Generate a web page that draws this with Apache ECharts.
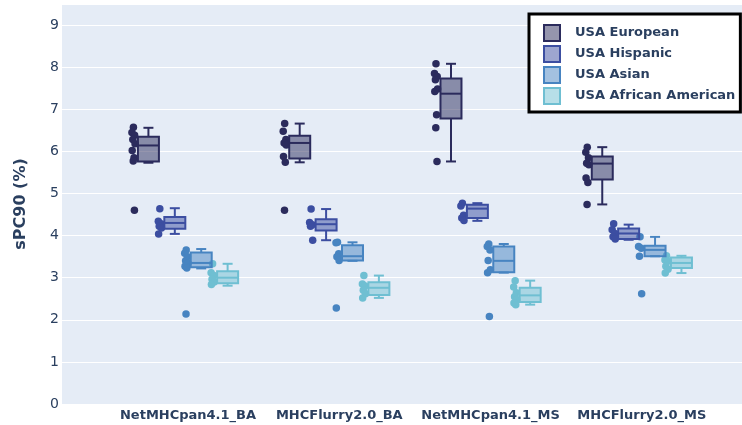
<!DOCTYPE html>
<html>
<head>
<meta charset="utf-8">
<script src="https://cdn.jsdelivr.net/npm/echarts@6/dist/echarts.min.js"></script>
<style>
html,body{margin:0;padding:0;background:#fff;}
#chart{width:742px;height:425px;}
</style>
</head>
<body>
<div id="chart"></div>
<script>
const categories = ['NetMHCpan4.1_BA', 'MHCFlurry2.0_BA', 'NetMHCpan4.1_MS', 'MHCFlurry2.0_MS'];
const groupNames = ['USA European', 'USA Hispanic', 'USA Asian', 'USA African American'];
const yTicks = [0, 1, 2, 3, 4, 5, 6, 7, 8, 9];

// box stats per category: [lowerWhisker, q1, median, q3, upperWhisker]
const europeanBoxes = [
  [5.73, 5.76, 6.14, 6.35, 6.56],
  [5.74, 5.83, 6.20, 6.37, 6.66],
  [5.76, 6.78, 7.37, 7.73, 8.08],
  [4.74, 5.33, 5.71, 5.88, 6.10]
];
const hispanicBoxes = [
  [4.04, 4.16, 4.30, 4.44, 4.65],
  [3.89, 4.12, 4.27, 4.39, 4.63],
  [4.35, 4.42, 4.64, 4.73, 4.77],
  [3.90, 3.92, 4.05, 4.17, 4.26]
];
const asianBoxes = [
  [3.22, 3.25, 3.35, 3.60, 3.68],
  [3.40, 3.41, 3.51, 3.77, 3.84],
  [3.12, 3.13, 3.40, 3.74, 3.80],
  [3.51, 3.51, 3.66, 3.76, 3.97]
];
const africanAmericanBoxes = [
  [2.81, 2.87, 3.00, 3.15, 3.33],
  [2.52, 2.59, 2.76, 2.89, 3.05],
  [2.36, 2.42, 2.58, 2.76, 2.93],
  [3.11, 3.23, 3.35, 3.48, 3.52]
];

// individual points per category
const europeanPoints = [
  [6.57, 6.45, 6.38, 6.28, 6.18, 6.02, 5.85, 5.77, 4.60],
  [6.66, 6.48, 6.28, 6.20, 6.15, 5.88, 5.74, 4.60],
  [8.08, 7.85, 7.78, 7.70, 7.48, 7.42, 6.87, 6.56, 5.76],
  [6.10, 5.98, 5.85, 5.72, 5.68, 5.37, 5.26, 4.74]
];
const hispanicPoints = [
  [4.64, 4.34, 4.28, 4.22, 4.18, 4.04],
  [4.63, 4.31, 4.26, 4.22, 3.89],
  [4.77, 4.70, 4.48, 4.42, 4.36],
  [4.28, 4.14, 4.05, 3.97, 3.92]
];
const asianPoints = [
  [3.66, 3.58, 3.50, 3.40, 3.35, 3.27, 3.23, 2.14],
  [3.84, 3.83, 3.57, 3.50, 3.41, 2.28],
  [3.80, 3.74, 3.66, 3.41, 3.19, 3.12, 2.08],
  [3.97, 3.74, 3.70, 3.51, 2.62]
];
const africanAmericanPoints = [
  [3.33, 3.12, 3.05, 2.96, 2.90, 2.84],
  [3.05, 2.85, 2.80, 2.70, 2.62, 2.52],
  [2.93, 2.78, 2.64, 2.55, 2.48, 2.40, 2.36],
  [3.52, 3.42, 3.39, 3.27, 3.20, 3.11]
];

const allBoxes = [europeanBoxes, hispanicBoxes, asianBoxes, africanAmericanBoxes];
const allPoints = [europeanPoints, hispanicPoints, asianPoints, africanAmericanPoints];

// styling
const lineColors = ['#2b2b5c', '#3c4ea1', '#4784c1', '#6fbfd2'];
const fillColors = ['rgba(43,43,92,0.5)', 'rgba(60,78,161,0.5)', 'rgba(71,132,193,0.5)', 'rgba(111,191,210,0.5)'];
const PX_PER_CAT = 151.3;
const slotPx = [-39.6, -13.2, 13.2, 39.6];
const pointOffsetPx = -15;
const jitterPx = [0, -1.5, 1.2, -0.6, 1.6, -1.2, 0.6, -0.2, 1.0, -1.0];

const chart = echarts.init(document.getElementById('chart'), null, {renderer: 'canvas'});

function renderBox(params, api) {
  const x = api.value(0);
  const gi = params.seriesIndex;
  const p = v => api.coord([x, v]);
  const lo = p(api.value(1)), q1 = p(api.value(2)), med = p(api.value(3)), q3 = p(api.value(4)), hi = p(api.value(5));
  const cx = lo[0];
  const hw = 10.5, cw = 5;
  const stroke = lineColors[gi];
  const ls = {stroke: stroke, lineWidth: 2, fill: null};
  return {
    type: 'group',
    children: [
      {type: 'line', shape: {x1: cx, y1: q3[1], x2: cx, y2: hi[1]}, style: ls},
      {type: 'line', shape: {x1: cx, y1: q1[1], x2: cx, y2: lo[1]}, style: ls},
      {type: 'line', shape: {x1: cx - cw, y1: hi[1], x2: cx + cw, y2: hi[1]}, style: ls},
      {type: 'line', shape: {x1: cx - cw, y1: lo[1], x2: cx + cw, y2: lo[1]}, style: ls},
      {type: 'rect', shape: {x: cx - hw, y: q3[1], width: 2 * hw, height: q1[1] - q3[1]},
        style: {fill: fillColors[gi], stroke: stroke, lineWidth: 2}},
      {type: 'line', shape: {x1: cx - hw, y1: med[1], x2: cx + hw, y2: med[1]}, style: ls}
    ]
  };
}

const series = [];
groupNames.forEach((name, gi) => {
  series.push({
    type: 'custom',
    name: name,
    renderItem: renderBox,
    encode: {x: 0, y: [1, 2, 3, 4, 5]},
    data: allBoxes[gi].map((b, ci) => [ci + slotPx[gi] / PX_PER_CAT].concat(b)),
    z: 3
  });
});
groupNames.forEach((name, gi) => {
  const data = [];
  allPoints[gi].forEach((pts, ci) => {
    pts.forEach((v, k) => {
      data.push([ci + (slotPx[gi] + pointOffsetPx + jitterPx[k % jitterPx.length]) / PX_PER_CAT, v]);
    });
  });
  series.push({
    type: 'scatter',
    name: name,
    data: data,
    symbolSize: 7.5,
    itemStyle: {color: lineColors[gi], opacity: 1},
    z: 2
  });
});

const option = {
  animation: false,
  backgroundColor: '#ffffff',
  textStyle: {fontFamily: 'DejaVu Sans'},
  grid: {
    left: 62, right: 0, top: 4, bottom: 21,
    show: true, backgroundColor: '#e5ecf6', borderWidth: 0
  },
  legend: {
    orient: 'vertical',
    left: 529, top: 14,
    padding: [10, 5, 7, 14],
    itemGap: 3,
    itemWidth: 16, itemHeight: 16,
    backgroundColor: '#ffffff',
    borderColor: '#000000',
    borderWidth: 3,
    selectedMode: false,
    textStyle: {fontFamily: 'DejaVu Sans', fontWeight: 'bold', fontSize: 13, color: '#2a3f5f', padding: [0, 0, 0, 10]},
    data: groupNames.map((n, gi) => ({
      name: n, icon: 'rect',
      itemStyle: {color: fillColors[gi], borderColor: lineColors[gi], borderWidth: 2}
    }))
  },
  xAxis: {
    type: 'value',
    min: -0.833, max: 3.662,
    axisLine: {show: false},
    axisTick: {show: false},
    splitLine: {show: false},
    axisLabel: {
      customValues: [0, 1, 2, 3],
      formatter: v => categories[Math.round(v)] || '',
      fontFamily: 'DejaVu Sans', fontWeight: 'bold', fontSize: 13, color: '#2a3f5f', margin: 5
    }
  },
  yAxis: {
    type: 'value',
    min: 0, max: 9.5, interval: 1,
    name: 'sPC90 (%)',
    nameLocation: 'middle',
    nameGap: 33,
    nameTextStyle: {fontFamily: 'DejaVu Sans', fontWeight: 'bold', fontSize: 16, color: '#2a3f5f'},
    axisLine: {show: false},
    axisTick: {show: false},
    splitLine: {show: true, lineStyle: {color: '#ffffff', width: 1}},
    axisLabel: {
      customValues: yTicks,
      fontFamily: 'DejaVu Sans', fontSize: 14, color: '#2a3f5f', margin: 3
    }
  },
  series: series
};
chart.setOption(option);
</script>
</body>
</html>
